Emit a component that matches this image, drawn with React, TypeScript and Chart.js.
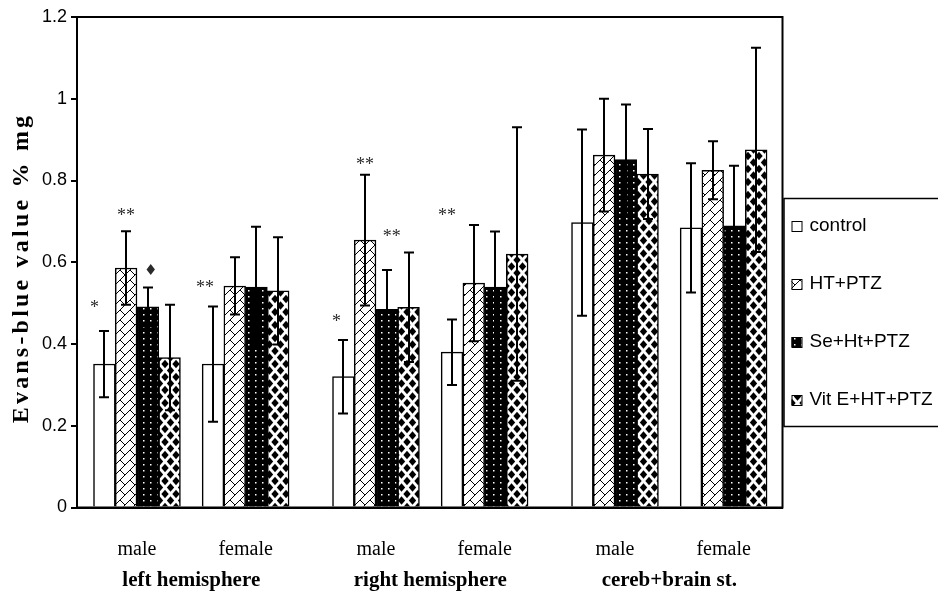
import React, { useEffect, useRef } from 'react';
import { Chart, registerables } from 'chart.js';

Chart.register(...registerables);

// ---- data ----
const groupLabels = ['male', 'female', 'male', 'female', 'male', 'female'];
const regionLabels = ['left hemisphere', 'right hemisphere', 'cereb+brain st.'];
const seriesNames = ['control', 'HT+PTZ', 'Se+Ht+PTZ', 'Vit E+HT+PTZ'];

const controlMean = [0.351, 0.351, 0.32, 0.38, 0.697, 0.684];
const controlSD = [0.081, 0.141, 0.09, 0.08, 0.228, 0.158];
const htMean = [0.586, 0.542, 0.654, 0.549, 0.862, 0.825];
const htSD = [0.09, 0.07, 0.16, 0.142, 0.138, 0.071];
const seMean = [0.491, 0.539, 0.485, 0.539, 0.851, 0.689];
const seSD = [0.047, 0.148, 0.096, 0.136, 0.135, 0.147];
const vitEMean = [0.367, 0.53, 0.49, 0.62, 0.816, 0.875];
const vitESD = [0.129, 0.131, 0.134, 0.31, 0.11, 0.25];

const yMin = 0;
const yMax = 1.2;
const yStep = 0.2;
const yTitle = 'Evans-blue value % mg';

// significance marks: series index, group index, text, level (value units), horizontal nudge (px)
const marks = [
  { series: 0, group: 0, text: '*', level: 0.498, dx: -10 },
  { series: 1, group: 0, text: '**', level: 0.723, dx: 0 },
  { series: 2, group: 0, text: '\u2666', level: 0.583, dx: 3 },
  { series: 0, group: 1, text: '**', level: 0.547, dx: -8 },
  { series: 0, group: 2, text: '*', level: 0.464, dx: -7 },
  { series: 1, group: 2, text: '**', level: 0.848, dx: 0 },
  { series: 2, group: 2, text: '**', level: 0.672, dx: 5 },
  { series: 0, group: 3, text: '**', level: 0.723, dx: -5 },
];

const means = [controlMean, htMean, seMean, vitEMean];
const sds = [controlSD, htSD, seSD, vitESD];

// slot layout: 4 bars per group, 1 empty slot between sexes, 2 between regions
const groupStart = (g: number) => g * 5 + Math.floor(g / 2);
const groupCenters = groupLabels.map((_, g) => groupStart(g) + 1.5);
const regionCenters = regionLabels.map((_, r) => (groupCenters[2 * r] + groupCenters[2 * r + 1]) / 2);

function makePattern(kind: number): CanvasPattern | string {
  const c = document.createElement('canvas');
  const ctx = c.getContext('2d')!;
  if (kind === 0) return '#ffffff';
  if (kind === 1) {
    c.width = 10; c.height = 10;
    ctx.fillStyle = '#fff'; ctx.fillRect(0, 0, 10, 10);
    ctx.strokeStyle = '#000'; ctx.lineWidth = 1;
    ctx.beginPath();
    ctx.moveTo(0, 10); ctx.lineTo(10, 0);
    ctx.moveTo(0, 0); ctx.lineTo(5, 5);
    ctx.stroke();
  } else if (kind === 2) {
    c.width = 7; c.height = 6;
    ctx.fillStyle = '#000'; ctx.fillRect(0, 0, 7, 6);
    ctx.fillStyle = '#fff'; ctx.fillRect(3, 2, 1.5, 1.5);
  } else {
    c.width = 11; c.height = 13;
    ctx.fillStyle = '#fff'; ctx.fillRect(0, 0, 11, 13);
    ctx.fillStyle = '#000';
    const pts = [[5.5, 6.5], [0, 0], [11, 0], [0, 13], [11, 13]];
    for (const [cx, cy] of pts) {
      ctx.beginPath();
      ctx.moveTo(cx, cy - 4.2); ctx.lineTo(cx + 3.7, cy); ctx.lineTo(cx, cy + 4.2); ctx.lineTo(cx - 3.7, cy);
      ctx.closePath(); ctx.fill();
    }
  }
  return ctx.createPattern(c, 'repeat')!;
}

const extras = {
  id: 'extras',
  afterDatasetsDraw(chart: any) {
    const ctx = chart.ctx as CanvasRenderingContext2D;
    const ys = chart.scales.y;
    ctx.save();
    ctx.strokeStyle = '#000';
    ctx.lineWidth = 2;
    chart.data.datasets.forEach((ds: any, i: number) => {
      const meta = chart.getDatasetMeta(i);
      meta.data.forEach((el: any, j: number) => {
        const m = means[i][j];
        const s = sds[i][j];
        const x = Math.round(el.x);
        const yt = ys.getPixelForValue(m + s);
        const yb = ys.getPixelForValue(m - s);
        ctx.beginPath();
        ctx.moveTo(x, yt); ctx.lineTo(x, yb);
        ctx.moveTo(x - 5, yt); ctx.lineTo(x + 5, yt);
        ctx.moveTo(x - 5, yb); ctx.lineTo(x + 5, yb);
        ctx.stroke();
      });
    });
    // significance marks
    ctx.fillStyle = '#2a2a2a';
    ctx.textAlign = 'center';
    ctx.textBaseline = 'alphabetic';
    for (const mk of marks) {
      const el = chart.getDatasetMeta(mk.series).data[mk.group];
      ctx.font = mk.text === '\u2666' ? '15px "DejaVu Sans"' : '18px "Liberation Serif"';
      const mt = ctx.measureText(mk.text);
      const target = ys.getPixelForValue(mk.level);
      const base = target + (mt.actualBoundingBoxAscent - mt.actualBoundingBoxDescent) / 2;
      ctx.fillText(mk.text, el.x + mk.dx, base);
    }
    ctx.restore();
  },
  afterDraw(chart: any) {
    const ctx = chart.ctx as CanvasRenderingContext2D;
    const a = chart.chartArea;
    ctx.save();
    // plot frame
    ctx.strokeStyle = '#000';
    ctx.lineWidth = 2;
    ctx.strokeRect(a.left, a.top, a.right - a.left, a.bottom - a.top);
    // y title
    ctx.save();
    ctx.translate(22, 268);
    ctx.rotate(-Math.PI / 2);
    ctx.fillStyle = '#000';
    ctx.font = 'bold 24px "Liberation Serif"';
    (ctx as any).letterSpacing = '3.2px';
    ctx.textAlign = 'center';
    ctx.textBaseline = 'middle';
    ctx.fillText(yTitle, 0, 0);
    ctx.restore();
    // legend
    const lx = a.right + 1;
    const ly = 198;
    ctx.lineWidth = 1.5;
    ctx.strokeRect(lx + 0.5, ly + 0.5, 155, 228);
    ctx.font = '19px "Liberation Sans"';
    ctx.textBaseline = 'middle';
    ctx.textAlign = 'left';
    chart.data.datasets.forEach((ds: any, i: number) => {
      const cy = 226 + i * 58;
      ctx.fillStyle = ds.backgroundColor;
      ctx.fillRect(lx + 8, cy - 5, 10, 10);
      ctx.lineWidth = 1;
      ctx.strokeStyle = '#000';
      ctx.strokeRect(lx + 8.5, cy - 4.5, 10, 10);
      ctx.fillStyle = '#000';
      ctx.fillText(ds.label, lx + 26, cy);
    });
    ctx.restore();
  },
};

export default function App() {
  const ref = useRef<HTMLCanvasElement | null>(null);
  useEffect(() => {
    if (!ref.current) return;
    const datasets = seriesNames.map((name, s) => ({
      label: name,
      data: means[s].map((v, g) => ({ x: groupStart(g) + s, y: v })),
      backgroundColor: makePattern(s),
      borderColor: '#000',
      borderWidth: 1.5,
      borderSkipped: 'bottom',
      grouped: false,
      barPercentage: 1,
      categoryPercentage: 1,
      xAxisID: 'x',
    }));
    const xMin = -1.26;
    const xMax = 31.21;
    const chart = new Chart(ref.current, {
      type: 'bar',
      data: { datasets } as any,
      plugins: [extras],
      options: {
        animation: false,
        responsive: true,
        maintainAspectRatio: false,
        layout: { padding: { left: 0, right: 155.5, top: 17, bottom: 0 } },
        plugins: { legend: { display: false }, tooltip: { enabled: false } },
        scales: {
          x: {
            type: 'linear',
            position: 'bottom',
            min: xMin,
            max: xMax,
            offset: false,
            weight: 0,
            grid: { display: false },
            border: { display: true, color: '#000', width: 2 },
            ticks: {
              autoSkip: false,
              maxRotation: 0,
              padding: 22,
              color: '#000',
              font: { family: 'Liberation Serif', size: 20 },
              callback: (_v: any, i: number) => groupLabels[i],
            },
            afterBuildTicks: (axis: any) => { axis.ticks = groupCenters.map((v) => ({ value: v })); },
            afterFit: (axis: any) => { axis.height = 50; },
          },
          x2: {
            type: 'linear',
            position: 'bottom',
            display: true,
            min: xMin,
            max: xMax,
            offset: false,
            weight: 1,
            grid: { display: false },
            border: { display: false },
            ticks: {
              autoSkip: false,
              maxRotation: 0,
              padding: 2,
              color: '#000',
              font: { family: 'Liberation Serif', size: 21, weight: 'bold' },
              callback: (_v: any, i: number) => regionLabels[i],
            },
            afterBuildTicks: (axis: any) => { axis.ticks = regionCenters.map((v) => ({ value: v })); },
            afterFit: (axis: any) => { axis.height = 36.5; },
          },
          y: {
            min: yMin,
            max: yMax,
            ticks: {
              stepSize: yStep,
              padding: 4,
              color: '#000',
              font: { family: 'Liberation Sans', size: 18 },
              callback: (v: any) => String(Number(Number(v).toFixed(1))),
            },
            grid: { display: true, drawOnChartArea: false, drawTicks: true, tickLength: 6, color: '#000', lineWidth: 2 },
            border: { display: true, color: '#000', width: 2 },
            afterFit: (axis: any) => { axis.width = 77; },
          },
        },
      } as any,
    });
    return () => chart.destroy();
  }, []);
  return (
    <div style={{ position: 'fixed', left: 0, top: 0, width: 938, height: 594, background: '#fff' }}>
      <canvas ref={ref} />
    </div>
  );
}
